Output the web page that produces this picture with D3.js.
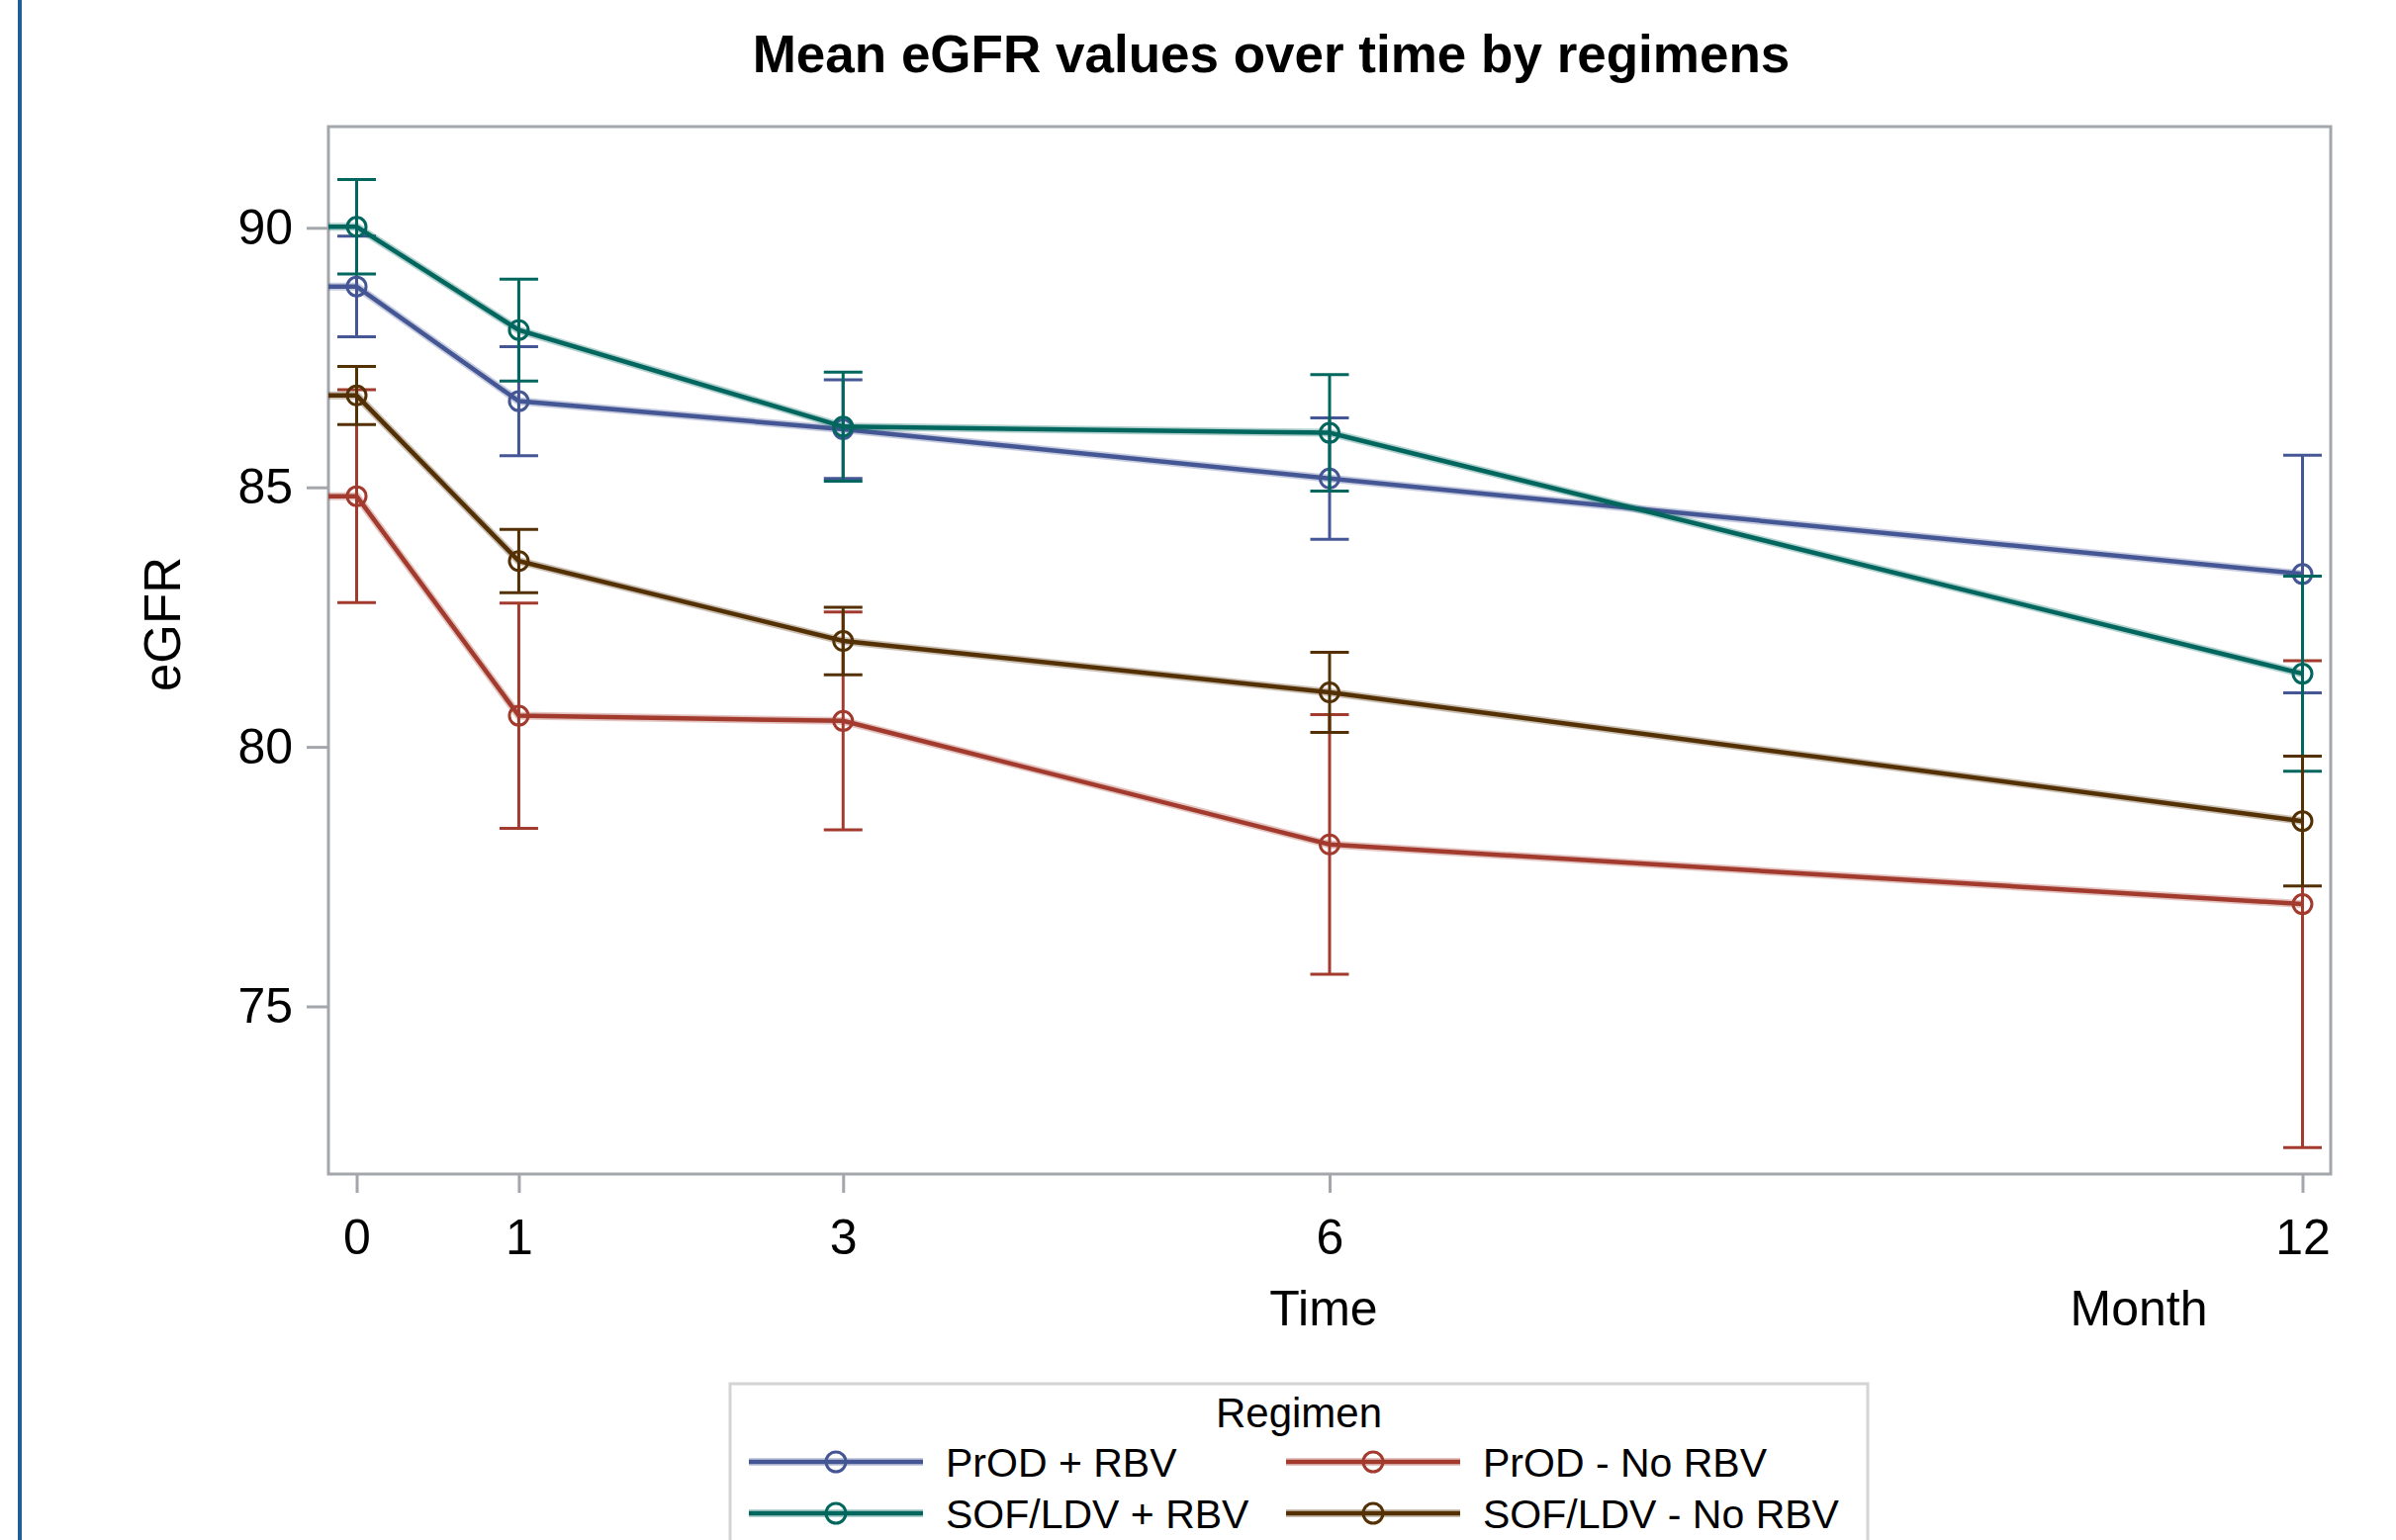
<!DOCTYPE html>
<html>
<head>
<meta charset="utf-8">
<title>Mean eGFR values over time by regimens</title>
<script src="https://cdn.jsdelivr.net/npm/d3@7"></script>
<style>
  body { margin: 0; background: #ffffff; overflow: hidden; }
  text { font-family: "Liberation Sans", Arial, sans-serif; fill: #000; }
</style>
</head>
<body>
<div id="myGraph"></div>
<script>
// x axis: months after start of treatment
const months = [0, 1, 3, 6, 12];
const yTickValues = [75, 80, 85, 90];

const regimens = ['PrOD + RBV', 'PrOD - No RBV', 'SOF/LDV + RBV', 'SOF/LDV - No RBV'];
const regimenColours = ['#445694', '#A23A2E', '#01665E', '#543005'];

// mean eGFR at each month
const prodRbv   = [88.87, 86.66, 86.12, 85.17, 83.33];
const prodNoRbv = [84.83, 80.60, 80.50, 78.12, 76.97];
const sofRbv    = [90.02, 88.03, 86.17, 86.05, 81.41];
const sofNoRbv  = [86.77, 83.58, 82.04, 81.05, 78.57];

// half length of each error bar
const prodRbvErr   = [0.97, 1.05, 0.95, 1.17, 2.29];
const prodNoRbvErr = [2.05, 2.17, 2.10, 2.50, 4.69];
const sofRbvErr    = [0.91, 0.98, 1.05, 1.12, 1.88];
const sofNoRbvErr  = [0.56, 0.61, 0.65, 0.77, 1.25];

const allMeans = [prodRbv, prodNoRbv, sofRbv, sofNoRbv];
const allErrs = [prodRbvErr, prodNoRbvErr, sofRbvErr, sofNoRbvErr];

const width = 2422;
const height = 1557;
const plot = {left: 332, right: 2356, top: 128, bottom: 1187};
const frameColour = '#A3A6AA';

let series = regimens.map((name, i) => ({
    name: name,
    colour: regimenColours[i],
    points: months.map((m, j) => ({month: m, mean: allMeans[i][j], err: allErrs[i][j]}))
}));

const xScale = d3.scaleLinear().domain([-0.174, 12.174]).range([plot.left, plot.right]);
const yScale = d3.scaleLinear().domain([71.77, 91.95]).range([plot.bottom, plot.top]);

let svg = d3.select('#myGraph')
    .append('svg')
        .attr('width', width)
        .attr('height', height);

// page border line on the left
svg.append('line')
    .attr('x1', 20).attr('x2', 20)
    .attr('y1', 0).attr('y2', height)
    .attr('stroke', '#1F5E9C')
    .attr('stroke-width', 4);

svg.append('text')
    .attr('x', 1285)
    .attr('y', 73)
    .attr('text-anchor', 'middle')
    .attr('font-size', 53)
    .attr('font-weight', 'bold')
    .text('Mean eGFR values over time by regimens');

// axes (the frame is drawn as a rect so hide the domain paths)
let yAxis = svg.append('g')
    .attr('transform', `translate(${plot.left}, 0)`)
    .call(d3.axisLeft(yScale).tickValues(yTickValues).tickSize(22).tickPadding(14));

let xAxis = svg.append('g')
    .attr('transform', `translate(0, ${plot.bottom})`)
    .call(d3.axisBottom(xScale).tickValues(months).tickSize(19).tickPadding(26));

[yAxis, xAxis].forEach(ax => {
    ax.select('.domain').remove();
    ax.selectAll('.tick line').attr('stroke', frameColour).attr('stroke-width', 3);
    ax.selectAll('.tick text')
        .attr('font-size', 50)
        .attr('font-family', '"Liberation Sans", Arial, sans-serif')
        .attr('fill', '#000');
});

svg.append('rect')
    .attr('x', plot.left)
    .attr('y', plot.top)
    .attr('width', plot.right - plot.left)
    .attr('height', plot.bottom - plot.top)
    .attr('fill', 'none')
    .attr('stroke', frameColour)
    .attr('stroke-width', 3);

svg.append('text')
    .attr('transform', 'translate(182, 631) rotate(-90)')
    .attr('text-anchor', 'middle')
    .attr('font-size', 51)
    .text('eGFR');

svg.append('text')
    .attr('x', 1338)
    .attr('y', 1340)
    .attr('text-anchor', 'middle')
    .attr('font-size', 50)
    .text('Time');

svg.append('text')
    .attr('x', 2162)
    .attr('y', 1340)
    .attr('text-anchor', 'middle')
    .attr('font-size', 50)
    .text('Month');

// lines start at the left edge of the frame, like the SAS output
const line = d3.line()
    .x(d => xScale(d.month))
    .y(d => yScale(d.mean));

const capHalf = 19.5;

let g = svg.append('g');

series.forEach(s => {
    let sg = g.append('g');

    let bars = sg.selectAll('g.bar')
        .data(s.points)
        .enter()
        .append('g')
            .attr('class', 'bar')
            .attr('stroke', s.colour)
            .attr('stroke-width', 3);

    bars.append('line')
        .attr('x1', d => xScale(d.month)).attr('x2', d => xScale(d.month))
        .attr('y1', d => yScale(d.mean - d.err)).attr('y2', d => yScale(d.mean + d.err));
    bars.append('line')
        .attr('x1', d => xScale(d.month) - capHalf).attr('x2', d => xScale(d.month) + capHalf)
        .attr('y1', d => yScale(d.mean + d.err)).attr('y2', d => yScale(d.mean + d.err));
    bars.append('line')
        .attr('x1', d => xScale(d.month) - capHalf).attr('x2', d => xScale(d.month) + capHalf)
        .attr('y1', d => yScale(d.mean - d.err)).attr('y2', d => yScale(d.mean - d.err));

    let linePts = [{month: xScale.domain()[0], mean: s.points[0].mean}].concat(s.points);

    // soft halo under the line, then the line itself
    sg.append('path')
        .datum(linePts)
        .attr('d', line)
        .attr('fill', 'none')
        .attr('stroke', s.colour)
        .attr('stroke-opacity', 0.3)
        .attr('stroke-width', 8);
    sg.append('path')
        .datum(linePts)
        .attr('d', line)
        .attr('fill', 'none')
        .attr('stroke', s.colour)
        .attr('stroke-width', 4.5);

    sg.selectAll('circle')
        .data(s.points)
        .enter()
        .append('circle')
            .attr('cx', d => xScale(d.month))
            .attr('cy', d => yScale(d.mean))
            .attr('r', 9.5)
            .attr('fill', 'none')
            .attr('stroke', s.colour)
            .attr('stroke-width', 3);
});

// legend
const legend = {left: 738, right: 1888, top: 1399};
svg.append('rect')
    .attr('x', legend.left)
    .attr('y', legend.top)
    .attr('width', legend.right - legend.left)
    .attr('height', 300)
    .attr('fill', 'none')
    .attr('stroke', '#D4D4D4')
    .attr('stroke-width', 3);

svg.append('text')
    .attr('x', (legend.left + legend.right) / 2)
    .attr('y', 1443)
    .attr('text-anchor', 'middle')
    .attr('font-size', 42)
    .text('Regimen');

const legendCols = [757, 1300];
const legendRows = [1478, 1530];
const sampleLen = 176;

series.forEach((s, i) => {
    let lx = legendCols[i % 2];
    let ly = legendRows[Math.floor(i / 2)];
    let item = svg.append('g');
    item.append('line')
        .attr('x1', lx).attr('x2', lx + sampleLen)
        .attr('y1', ly).attr('y2', ly)
        .attr('stroke', s.colour).attr('stroke-opacity', 0.3).attr('stroke-width', 8);
    item.append('line')
        .attr('x1', lx).attr('x2', lx + sampleLen)
        .attr('y1', ly).attr('y2', ly)
        .attr('stroke', s.colour).attr('stroke-width', 4.5);
    item.append('circle')
        .attr('cx', lx + sampleLen / 2)
        .attr('cy', ly)
        .attr('r', 10)
        .attr('fill', 'none')
        .attr('stroke', s.colour)
        .attr('stroke-width', 3);
    item.append('text')
        .attr('x', lx + sampleLen + 23)
        .attr('y', ly + 15)
        .attr('font-size', 41)
        .text(s.name);
});
</script>
</body>
</html>
